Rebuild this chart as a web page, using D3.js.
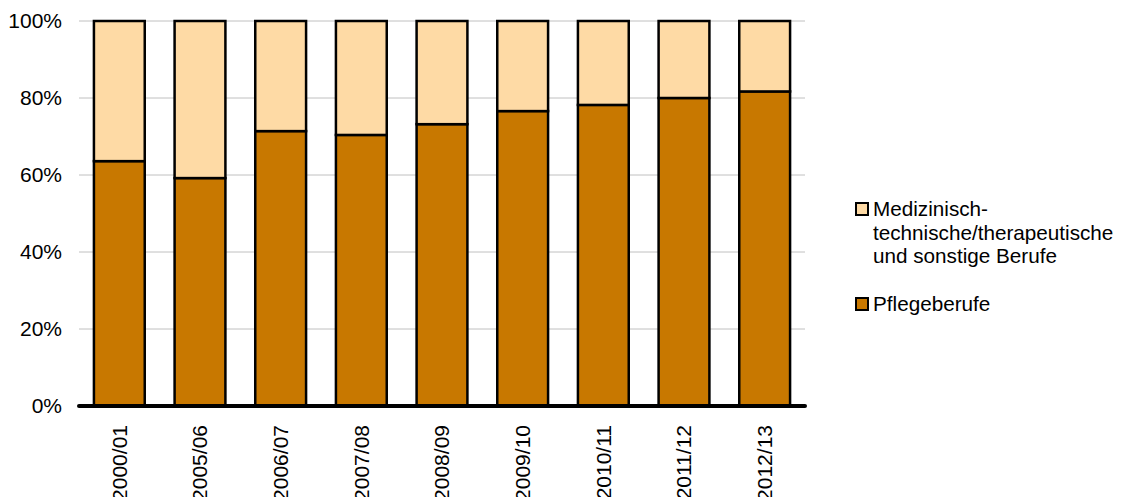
<!DOCTYPE html>
<html>
<head>
<meta charset="utf-8">
<script src="https://cdn.jsdelivr.net/npm/d3@7"></script>
<style>
  body { margin: 0; background: #fff; }
  svg { font-family: 'Liberation Sans', Arial, sans-serif; }
</style>
</head>
<body>
<svg id="chart"></svg>
<script>
// data
const years = ['2000/01', '2005/06', '2006/07', '2007/08', '2008/09', '2009/10', '2010/11', '2011/12', '2012/13'];
const pflege = [63.6, 59.2, 71.4, 70.4, 73.2, 76.6, 78.2, 80.0, 81.7];
const medizin = pflege.map(v => 100 - v);
const yTicks = [0, 20, 40, 60, 80, 100];
const colors = ['#c87800', '#fedaa5'];

const width = 1125;
const height = 497;
const plot = { left: 79, right: 805, top: 21, bottom: 406 };

const svg = d3.select('#chart')
  .attr('width', width)
  .attr('height', height);

const x = d3.scaleBand()
  .domain(years)
  .range([plot.left, plot.right])
  .paddingInner(0.37)
  .paddingOuter(0.185);

const y = d3.scaleLinear()
  .domain([0, 100])
  .range([plot.bottom, plot.top]);

// gridlines
svg.append('g')
  .selectAll('line')
  .data(yTicks.filter(d => d > 0))
  .join('line')
  .attr('x1', plot.left)
  .attr('x2', plot.right)
  .attr('y1', d => y(d))
  .attr('y2', d => y(d))
  .attr('stroke', '#c0c0c0')
  .attr('stroke-width', 1);

// y tick labels
svg.append('g')
  .selectAll('text')
  .data(yTicks)
  .join('text')
  .attr('x', 62)
  .attr('y', d => y(d))
  .attr('dy', '0.35em')
  .attr('text-anchor', 'end')
  .attr('font-size', 21)
  .attr('fill', '#000')
  .text(d => d + '%');

// stacked bars
const rows = years.map((yr, i) => ({ year: yr, p: pflege[i], m: medizin[i] }));
const stack = d3.stack().keys(['p', 'm'])(rows);

svg.append('g')
  .selectAll('g')
  .data(stack)
  .join('g')
  .attr('fill', (d, i) => colors[i])
  .selectAll('rect')
  .data(d => d)
  .join('rect')
  .attr('x', d => x(d.data.year))
  .attr('width', x.bandwidth())
  .attr('y', d => y(d[1]))
  .attr('height', d => y(d[0]) - y(d[1]))
  .attr('stroke', '#000')
  .attr('stroke-width', 2.5);

// baseline
svg.append('line')
  .attr('x1', plot.left)
  .attr('x2', plot.right)
  .attr('y1', y(0))
  .attr('y2', y(0))
  .attr('stroke', '#000')
  .attr('stroke-width', 4)
  .attr('stroke-linecap', 'round');

// x labels, rotated
svg.append('g')
  .selectAll('text')
  .data(years)
  .join('text')
  .attr('transform', d => `translate(${x(d) + x.bandwidth() / 2}, 425) rotate(-90)`)
  .attr('dy', '0.35em')
  .attr('text-anchor', 'end')
  .attr('font-size', 21)
  .attr('fill', '#000')
  .text(d => d);

// legend
const legend = svg.append('g');
const legendItems = [
  { color: colors[1], lines: ['Medizinisch-', 'technische/therapeutische', 'und sonstige Berufe'], top: 203 },
  { color: colors[0], lines: ['Pflegeberufe'], top: 298 },
];
legendItems.forEach(item => {
  legend.append('rect')
    .attr('x', 856)
    .attr('y', item.top)
    .attr('width', 12)
    .attr('height', 12)
    .attr('fill', item.color)
    .attr('stroke', '#000')
    .attr('stroke-width', 2);
  legend.append('text')
    .attr('x', 873)
    .attr('y', item.top + 13)
    .attr('font-size', 20.7)
    .attr('fill', '#000')
    .selectAll('tspan')
    .data(item.lines)
    .join('tspan')
    .attr('x', 873)
    .attr('dy', (d, i) => i === 0 ? 0 : 23.5)
    .text(d => d);
});
</script>
</body>
</html>
